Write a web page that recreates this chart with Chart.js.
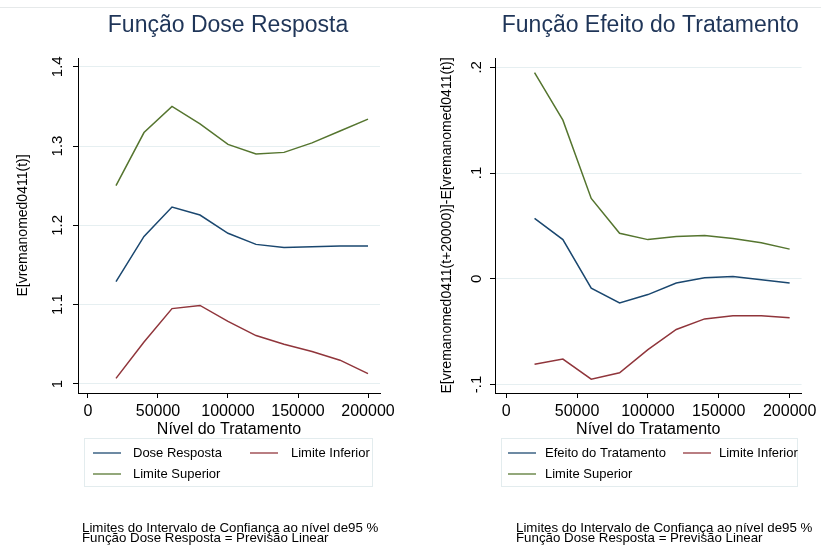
<!DOCTYPE html>
<html>
<head>
<meta charset="utf-8">
<script src="https://cdn.jsdelivr.net/npm/chart.js@4/dist/chart.umd.min.js"></script>
<style>
  html, body { margin: 0; padding: 0; background: #fff; }
  #wrap { position: relative; width: 821px; height: 545px; overflow: hidden; }
  #topline { position: absolute; left: 0; top: 7px; width: 821px; height: 1px; background: #e6e9ea; }
  #c1 { position: absolute; left: 0; top: 0; }
  #c2 { position: absolute; left: 410px; top: 0; }
</style>
</head>
<body>
<div id="wrap">
  <div id="topline"></div>
  <canvas id="c1" width="410" height="545"></canvas>
  <canvas id="c2" width="411" height="545"></canvas>
</div>
<script>
// niveis do tratamento
const niveis = [20000, 40000, 60000, 80000, 100000, 120000, 140000, 160000, 180000, 200000];

// Funcao dose resposta
const doseResposta = [1.129, 1.186, 1.223, 1.213, 1.190, 1.176, 1.172, 1.173, 1.174, 1.174];
const doseInferior = [1.007, 1.053, 1.095, 1.099, 1.079, 1.061, 1.050, 1.041, 1.030, 1.013];
const doseSuperior = [1.250, 1.317, 1.350, 1.328, 1.302, 1.290, 1.292, 1.304, 1.319, 1.334];

// Funcao efeito do tratamento
const efeito = [0.057, 0.037, -0.009, -0.023, -0.015, -0.004, 0.001, 0.002, -0.001, -0.004];
const efeitoInferior = [-0.081, -0.076, -0.095, -0.089, -0.067, -0.048, -0.038, -0.035, -0.035, -0.037];
const efeitoSuperior = [0.195, 0.150, 0.076, 0.043, 0.037, 0.040, 0.041, 0.038, 0.034, 0.028];

// ticks
const xTicks = [0, 50000, 100000, 150000, 200000];
const yTicksDose = [1, 1.1, 1.2, 1.3, 1.4];
const yLabelsDose = ['1', '1.1', '1.2', '1.3', '1.4'];
const yTicksEfeito = [-0.1, 0, 0.1, 0.2];
const yLabelsEfeito = ['-.1', '0', '.1', '.2'];

const AZUL = '#1a476f', VERMELHO = '#90353b', VERDE = '#55752f';
const FONTE = 'Arial, "Liberation Sans", sans-serif';
const nota = ['Limites do Intervalo de Confiança ao nível de95 %', 'Função Dose Resposta = Previsão Linear'];

function pts(vals) {
  return vals.map((v, i) => ({ x: niveis[i], y: v }));
}

// titulo, rotulos do eixo y rodados, legenda com caixa e nota de rodape
const stataDeco = {
  id: 'stataDeco',
  afterDraw(chart, args, o) {
    const ctx = chart.ctx;
    const area = chart.chartArea;
    const ys = chart.scales.y;
    ctx.save();
    ctx.fillStyle = '#1f3558';
    ctx.font = '23px ' + FONTE;
    ctx.textAlign = 'center';
    ctx.textBaseline = 'alphabetic';
    ctx.fillText(o.titulo, (area.left + area.right) / 2 + o.tituloDx, 32);

    ctx.fillStyle = '#000';
    ctx.font = '15px ' + FONTE;
    o.yTicks.forEach((v, i) => {
      const py = ys.getPixelForValue(v);
      ctx.save();
      ctx.translate(area.left - o.yLabDx, py);
      ctx.rotate(-Math.PI / 2);
      ctx.textAlign = 'center';
      ctx.textBaseline = 'middle';
      ctx.fillText(o.yLabels[i], 0, 0);
      ctx.restore();
    });

    const L = o.legenda;
    ctx.strokeStyle = '#e3ecee';
    ctx.lineWidth = 1;
    ctx.strokeRect(L.x0 + 0.5, L.y0 + 0.5, L.x1 - L.x0, L.y1 - L.y0);
    ctx.font = '13px ' + FONTE;
    ctx.textAlign = 'left';
    ctx.textBaseline = 'middle';
    chart.data.datasets.forEach((ds, i) => {
      const it = L.itens[i];
      ctx.strokeStyle = ds.borderColor;
      ctx.globalAlpha = 0.85;
      ctx.lineWidth = 1.5;
      ctx.beginPath();
      ctx.moveTo(it.lx, it.y);
      ctx.lineTo(it.lx + 28, it.y);
      ctx.stroke();
      ctx.globalAlpha = 1;
      ctx.fillStyle = '#000';
      ctx.fillText(ds.label, it.tx, it.y);
    });

    ctx.font = '13.3px ' + FONTE;
    ctx.fillStyle = '#000';
    nota.forEach((t, i) => ctx.fillText(t, o.notaX, 528 + i * 10.7));
    ctx.restore();
  }
};

function grafico(id, cfg) {
  new Chart(document.getElementById(id), {
    type: 'line',
    data: {
      datasets: cfg.series.map(s => ({
        label: s.label,
        data: pts(s.data),
        borderColor: s.cor,
        borderWidth: 1.5,
        pointRadius: 0,
        tension: 0,
        fill: false
      }))
    },
    options: {
      responsive: false,
      animation: false,
      events: [],
      layout: { padding: { left: 0, right: cfg.padRight, top: 58, bottom: 102 } },
      plugins: {
        legend: { display: false },
        title: { display: false },
        tooltip: { enabled: false },
        stataDeco: cfg.deco
      },
      scales: {
        x: {
          type: 'linear',
          min: cfg.xMin,
          max: cfg.xMax,
          afterBuildTicks: s => { s.ticks = xTicks.map(v => ({ value: v })); },
          afterFit: s => { s.height = 50; },
          ticks: { color: '#000', font: { size: 16, family: FONTE }, padding: 4, maxRotation: 0, callback: v => String(v) },
          grid: { drawOnChartArea: false, drawTicks: true, tickLength: 5, tickColor: '#000' },
          border: { color: '#000', width: 1 },
          title: { display: true, text: 'Nível do Tratamento', color: '#000', font: { size: 16, family: FONTE }, padding: { top: 0, bottom: 3.5 } }
        },
        y: {
          type: 'linear',
          min: cfg.yMin,
          max: cfg.yMax,
          afterBuildTicks: s => { s.ticks = cfg.deco.yTicks.map(v => ({ value: v })); },
          afterFit: s => { s.width = cfg.yWidth; },
          ticks: { display: false },
          grid: { color: '#e6eff1', lineWidth: 1, drawTicks: true, tickLength: 5, tickColor: '#000' },
          border: { color: '#000', width: 1 },
          title: { display: true, text: cfg.yTitulo, color: '#000', font: { size: 14, family: FONTE }, padding: { top: cfg.yTitPad, bottom: 0 } }
        }
      }
    },
    plugins: [stataDeco]
  });
}

grafico('c1', {
  series: [
    { label: 'Dose Resposta', data: doseResposta, cor: AZUL },
    { label: 'Limite Inferior', data: doseInferior, cor: VERMELHO },
    { label: 'Limite Superior', data: doseSuperior, cor: VERDE }
  ],
  xMin: -7140, xMax: 208570, yMin: 0.9886, yMax: 1.411,
  yWidth: 78, padRight: 30, yTitulo: 'E[vremanomed0411(t)]', yTitPad: 14.6,
  deco: {
    titulo: 'Função Dose Resposta', tituloDx: -1, yLabDx: 20,
    yTicks: yTicksDose, yLabels: yLabelsDose, notaX: 82,
    legenda: {
      x0: 84, y0: 438, x1: 372, y1: 486,
      itens: [{ lx: 93, tx: 133, y: 453 }, { lx: 250, tx: 291, y: 453 }, { lx: 93, tx: 133, y: 474 }]
    }
  }
});

grafico('c2', {
  series: [
    { label: 'Efeito do Tratamento', data: efeito, cor: AZUL },
    { label: 'Limite Inferior', data: efeitoInferior, cor: VERMELHO },
    { label: 'Limite Superior', data: efeitoSuperior, cor: VERDE }
  ],
  xMin: -7900, xMax: 208400, yMin: -0.1081, yMax: 0.2088,
  yWidth: 85, padRight: 17, yTitulo: 'E[vremanomed0411(t+20000)]-E[vremanomed0411(t)]', yTitPad: 28.6,
  deco: {
    titulo: 'Função Efeito do Tratamento', tituloDx: 2, yLabDx: 18,
    yTicks: yTicksEfeito, yLabels: yLabelsEfeito, notaX: 106,
    legenda: {
      x0: 91, y0: 438, x1: 387, y1: 486,
      itens: [{ lx: 98, tx: 135, y: 453 }, { lx: 273, tx: 309, y: 453 }, { lx: 98, tx: 135, y: 474 }]
    }
  }
});
</script>
</body>
</html>
